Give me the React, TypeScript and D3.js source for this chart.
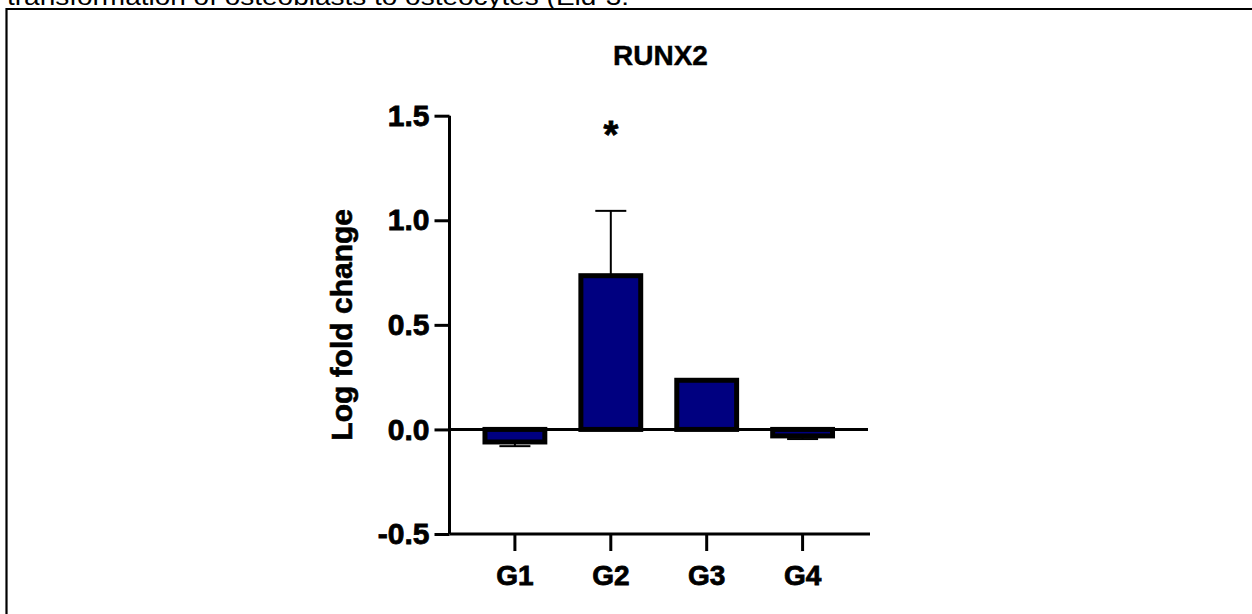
import { useEffect, useRef } from "react";
import * as d3 from "d3";

const groups = ["G1", "G2", "G3", "G4"];
const means = [-0.06, 0.735, 0.235, -0.031];
const sems = [0.02, 0.31, 0.005, 0.015];
const yTicks = [-0.5, 0.0, 0.5, 1.0, 1.5];
const signif = ["", "*", "", ""];

const FONT = "Arial, 'Liberation Sans', sans-serif";

const App = () => {
  const ref = useRef<SVGSVGElement | null>(null);

  useEffect(() => {
    if (!ref.current) return;
    const svg = d3.select(ref.current);
    svg.selectAll("*").remove();

    const width = 1252;
    const height = 614;
    const left = 449.5;
    const right = 868;

    // page fragment above the figure (cut off in the original too)
    svg
      .append("text")
      .attr("x", 7)
      .attr("y", 5)
      .attr("font-family", FONT)
      .attr("font-size", 24)
      .attr("textLength", 622)
      .attr("lengthAdjust", "spacingAndGlyphs")
      .text("transformation of osteoblasts to osteocytes (Eld-3:");

    // frame
    svg
      .append("path")
      .attr("d", `M${width},9 H6.5 V${height}`)
      .attr("fill", "none")
      .attr("stroke", "#000")
      .attr("stroke-width", 2.2);

    const x = d3
      .scaleBand<string>()
      .domain(groups)
      .range([left, right])
      .paddingInner(0.376)
      .paddingOuter(0.37);

    const y = d3.scaleLinear().domain([-0.5, 1.5]).range([534, 115.7]);

    // bars
    svg
      .selectAll("rect.bar")
      .data(means)
      .enter()
      .append("rect")
      .attr("class", "bar")
      .attr("x", (_, i) => x(groups[i])!)
      .attr("width", x.bandwidth())
      .attr("y", (d) => y(Math.max(0, d)))
      .attr("height", (d) => Math.abs(y(d) - y(0)))
      .attr("fill", "#000080")
      .attr("stroke", "#000")
      .attr("stroke-width", 5);

    // error bars, one-sided in the bar's direction
    const cx = (i: number) => x(groups[i])! + x.bandwidth() / 2;
    const errEnd = (d: number, i: number) => (d >= 0 ? d + sems[i] : d - sems[i]);
    svg
      .selectAll("line.err")
      .data(means)
      .enter()
      .append("line")
      .attr("class", "err")
      .attr("x1", (_, i) => cx(i))
      .attr("x2", (_, i) => cx(i))
      .attr("y1", (d) => y(d))
      .attr("y2", (d, i) => y(errEnd(d, i)))
      .attr("stroke", "#000")
      .attr("stroke-width", 2);
    svg
      .selectAll("line.cap")
      .data(means)
      .enter()
      .append("line")
      .attr("class", "cap")
      .attr("x1", (_, i) => cx(i) - 15.5)
      .attr("x2", (_, i) => cx(i) + 15.5)
      .attr("y1", (d, i) => y(errEnd(d, i)))
      .attr("y2", (d, i) => y(errEnd(d, i)))
      .attr("stroke", "#000")
      .attr("stroke-width", 2);

    // zero line
    svg
      .append("line")
      .attr("x1", left)
      .attr("x2", right)
      .attr("y1", y(0))
      .attr("y2", y(0))
      .attr("stroke", "#000")
      .attr("stroke-width", 3);

    const heavy = (sel: d3.Selection<any, any, any, any>, size: number) =>
      sel
        .attr("font-family", FONT)
        .attr("font-size", size)
        .attr("font-weight", "bold")
        .attr("fill", "#000")
        .attr("stroke", "#000")
        .attr("stroke-width", 0.8);

    // y axis
    const yAxis = svg
      .append("g")
      .attr("transform", `translate(${left},0)`)
      .call(
        d3
          .axisLeft(y)
          .tickValues(yTicks)
          .tickSize(15)
          .tickPadding(5)
          .tickFormat((d) => d3.format(".1f")(d as number).replace("−", "-"))
      );
    yAxis.select(".domain").attr("stroke-width", 3).attr("d", `M0,${y(-0.5)}V${y(1.5)}`);
    yAxis.selectAll(".tick line").attr("stroke-width", 3);
    heavy(yAxis.selectAll(".tick text"), 30);

    // x axis
    const xAxis = svg
      .append("g")
      .attr("transform", `translate(0,${y(-0.5)})`)
      .call(d3.axisBottom(x).tickSize(17).tickPadding(14));
    xAxis.select(".domain").attr("stroke-width", 3).attr("d", `M${left},0H${right + 2}`);
    xAxis.selectAll(".tick line").attr("stroke-width", 3);
    heavy(xAxis.selectAll(".tick text"), 28);

    // significance marks
    heavy(
      svg
        .selectAll("text.sig")
        .data(signif)
        .enter()
        .append("text")
        .attr("class", "sig")
        .attr("x", (_, i) => cx(i))
        .attr("y", 148)
        .attr("text-anchor", "middle")
        .text((d) => d),
      38
    );

    // title
    heavy(
      svg
        .append("text")
        .attr("x", 660.5)
        .attr("y", 65)
        .attr("text-anchor", "middle")
        .text("RUNX2"),
      28
    ).attr("stroke-width", 0.4);

    // y label
    heavy(
      svg
        .append("text")
        .attr("transform", `translate(352,${y(0.5)}) rotate(-90)`)
        .attr("text-anchor", "middle")
        .text("Log fold change"),
      30
    ).attr("stroke-width", 0.6);
  }, []);

  return (
    <svg
      ref={ref}
      width={1252}
      height={614}
      style={{ position: "absolute", left: 0, top: 0, background: "#fff" }}
    />
  );
};

export default App;
